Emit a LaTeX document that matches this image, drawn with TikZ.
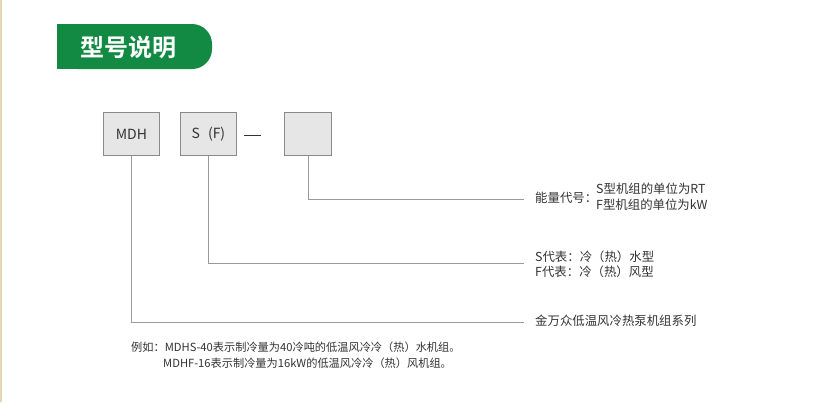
\documentclass[tikz,border=0pt]{standalone}
\usepackage{fontspec}
\setmainfont{Noto Sans CJK SC}
\newfontfamily\titlefont{Noto Sans CJK SC}[BoldFont={* Bold}]
\definecolor{tabgreen}{HTML}{138A43}
\definecolor{boxfill}{HTML}{E6E6E6}
\definecolor{boxline}{HTML}{8A8A8A}
\definecolor{conline}{HTML}{9A9A9A}
\definecolor{txt}{HTML}{333333}
\definecolor{strip}{HTML}{E6D7B2}
\begin{document}
\begin{tikzpicture}[x=1pt,y=-1pt,
  codebox/.style={draw=boxline,fill=boxfill,line width=0.9pt,inner sep=0pt,anchor=north west,font=\fontsize{14}{16}\selectfont,text=txt},
  conn/.style={draw=conline,line width=0.9pt},
  lbl/.style={anchor=west,inner sep=0pt,text=txt,font=\fontsize{12.4}{14}\selectfont},
  note/.style={anchor=west,inner sep=0pt,text=txt,font=\fontsize{11.2}{13}\selectfont}]
\useasboundingbox (0,0) rectangle (837,402);
\fill[white] (0,0) rectangle (837,402);
\fill[strip] (0,0) rectangle (2,402);
% title tab
\path[fill=tabgreen,rounded corners=20pt] (57,24) -- (212,24) -- (212,69) -- (57,69) [sharp corners] -- cycle;
\fill[tabgreen] (57,24) rectangle (150,69);
\node[text=white,inner sep=0pt,font=\titlefont\bfseries\fontsize{24}{26}\selectfont] (title) at (128,47) {型号说明};
% code boxes
\node[codebox,minimum width=56pt,minimum height=43pt] (mdh) at (103,112) {MDH};
\node[codebox,minimum width=56pt,minimum height=43pt] (sf) at (180,112) {S\hspace{8pt}(F)};
\node[inner sep=0pt,text=txt] (dash) at (252.5,135) {\rule[0pt]{17pt}{0.9pt}};
\node[codebox,minimum width=47pt,minimum height=43pt] (cap) at (284,112) {};
% connector ends
\coordinate (e1) at (524,199);
\coordinate (e2) at (524,263);
\coordinate (e3) at (524,322);
\draw[conn] (cap.south) |- (e1);
\draw[conn] (sf.south) |- (e2);
\draw[conn] (mdh.south) |- (e3);
% labels
\node[lbl] (l1) at (535,198) {能量代号：};
\node[lbl] (l1a) at (596,189) {S型机组的单位为RT};
\node[lbl] (l1b) at (596,205) {F型机组的单位为kW};
\node[lbl] (l2a) at (535,257) {S代表：冷（热）水型};
\node[lbl] (l2b) at (535,272) {F代表：冷（热）风型};
\node[lbl] (l3) at (535,321) {金万众低温风冷热泵机组系列};
% notes
\node[note] (n1) at (131,347) {例如：MDHS-40表示制冷量为40冷吨的低温风冷冷（热）水机组。};
\node[note] (n2) at (163,363) {MDHF-16表示制冷量为16kW的低温风冷冷（热）风机组。};
\end{tikzpicture}
\end{document}
